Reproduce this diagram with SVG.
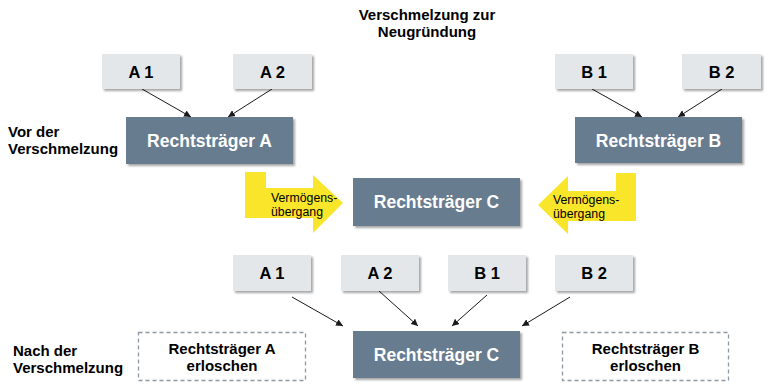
<svg xmlns="http://www.w3.org/2000/svg" width="768" height="390" viewBox="0 0 768 390">
<defs>
<filter id="sh" x="-10%" y="-10%" width="125%" height="135%">
<feDropShadow dx="2" dy="2" stdDeviation="1.3" flood-color="#000" flood-opacity="0.35"/>
</filter>
<marker id="ah" viewBox="0 0 10 10" refX="10" refY="5" markerWidth="7" markerHeight="7" markerUnits="userSpaceOnUse" orient="auto">
<path d="M0,0 L10,5 L0,10 z" fill="#1a1a1a"/>
</marker>
<style>
.lt{fill:#e3e7ea;filter:url(#sh)}
.dk{fill:#687c90;filter:url(#sh)}
.dash{fill:#fff;stroke:#8d99a5;stroke-width:1.3;stroke-dasharray:4 3}
.tl{font-family:"Liberation Sans",Arial,sans-serif;font-weight:bold;font-size:16.5px;fill:#000;text-anchor:middle}
.td{font-family:"Liberation Sans",Arial,sans-serif;font-weight:bold;font-size:17.5px;fill:#fff;text-anchor:middle}
.lab{font-family:"Liberation Sans",Arial,sans-serif;font-weight:bold;font-size:15px;fill:#000}
.lbc{font-family:"Liberation Sans",Arial,sans-serif;font-weight:bold;font-size:15px;fill:#000;text-anchor:middle}
.ar{fill:#f9e52a}
.at{font-family:"Liberation Sans",Arial,sans-serif;font-size:12.3px;fill:#000}
.cn{stroke:#1a1a1a;stroke-width:1;fill:none;marker-end:url(#ah)}
</style>
</defs>
<rect width="768" height="390" fill="#fff"/>

<g id="labels">
<text class="lbc" x="427" y="20">Verschmelzung zur</text>
<text class="lbc" x="427" y="37">Neugründung</text>
<text class="lab" x="8" y="137">Vor der</text>
<text class="lab" x="8" y="154">Verschmelzung</text>
<text class="lab" x="13" y="356">Nach der</text>
<text class="lab" x="13" y="373">Verschmelzung</text>
</g>

<g id="connectors">
<line class="cn" x1="142" y1="89" x2="191" y2="117"/>
<line class="cn" x1="272" y1="89" x2="228" y2="117"/>
<line class="cn" x1="592" y1="89" x2="642" y2="117"/>
<line class="cn" x1="722" y1="89" x2="678" y2="117"/>
<line class="cn" x1="292" y1="297" x2="343" y2="326"/>
<line class="cn" x1="379" y1="291" x2="418" y2="326"/>
<line class="cn" x1="487" y1="295" x2="452" y2="326"/>
<line class="cn" x1="570" y1="297" x2="522" y2="326"/>
</g>

<g id="nA1"><rect class="lt" x="102" y="54" width="78" height="35"/><text class="tl" x="141" y="77.5">A 1</text></g>
<g id="nA2"><rect class="lt" x="233" y="54" width="79" height="35"/><text class="tl" x="272.5" y="77.5">A 2</text></g>
<g id="nB1"><rect class="lt" x="555" y="54" width="78" height="35"/><text class="tl" x="594" y="77.5">B 1</text></g>
<g id="nB2"><rect class="lt" x="682" y="54" width="79" height="35"/><text class="tl" x="721.5" y="77.5">B 2</text></g>

<g id="nRA"><rect class="dk" x="126" y="117" width="167" height="47"/><text class="td" x="209.5" y="147">Rechtsträger A</text></g>
<g id="nRB"><rect class="dk" x="575" y="117" width="167" height="46"/><text class="td" x="658.5" y="146.5">Rechtsträger B</text></g>

<g id="arrowL">
<polygon class="ar" points="245,172 266,172 266,188 313,188 313,175 343,203 313,233 313,218 245,218"/>
<text class="at" x="271" y="202">Vermögens-</text>
<text class="at" x="271" y="216">übergang</text>
</g>
<g id="arrowR">
<polygon class="ar" points="636,173 616,173 616,191 568,191 568,176 538,205 568,234 568,221 636,221"/>
<text class="at" x="553" y="204">Vermögens-</text>
<text class="at" x="553" y="218">übergang</text>
</g>

<g id="nRCmid"><rect class="dk" x="353" y="178" width="167" height="48"/><text class="td" x="436.5" y="208">Rechtsträger C</text></g>

<g id="nA1b"><rect class="lt" x="233" y="255" width="78" height="36"/><text class="tl" x="272" y="279">A 1</text></g>
<g id="nA2b"><rect class="lt" x="341" y="255" width="78" height="36"/><text class="tl" x="380" y="279">A 2</text></g>
<g id="nB1b"><rect class="lt" x="448" y="255" width="78" height="36"/><text class="tl" x="487" y="279">B 1</text></g>
<g id="nB2b"><rect class="lt" x="555" y="255" width="78" height="36"/><text class="tl" x="594" y="279">B 2</text></g>

<g id="nRClow"><rect class="dk" x="353" y="331" width="167" height="47"/><text class="td" x="436.5" y="361">Rechtsträger C</text></g>

<g id="nRAx"><rect class="dash" x="138.5" y="332.5" width="167" height="48"/><text class="lbc" x="222" y="354">Rechtsträger A</text><text class="lbc" x="222" y="371">erloschen</text></g>
<g id="nRBx"><rect class="dash" x="562.5" y="332.5" width="166" height="48"/><text class="lbc" x="645.5" y="354">Rechtsträger B</text><text class="lbc" x="645.5" y="371">erloschen</text></g>
</svg>
